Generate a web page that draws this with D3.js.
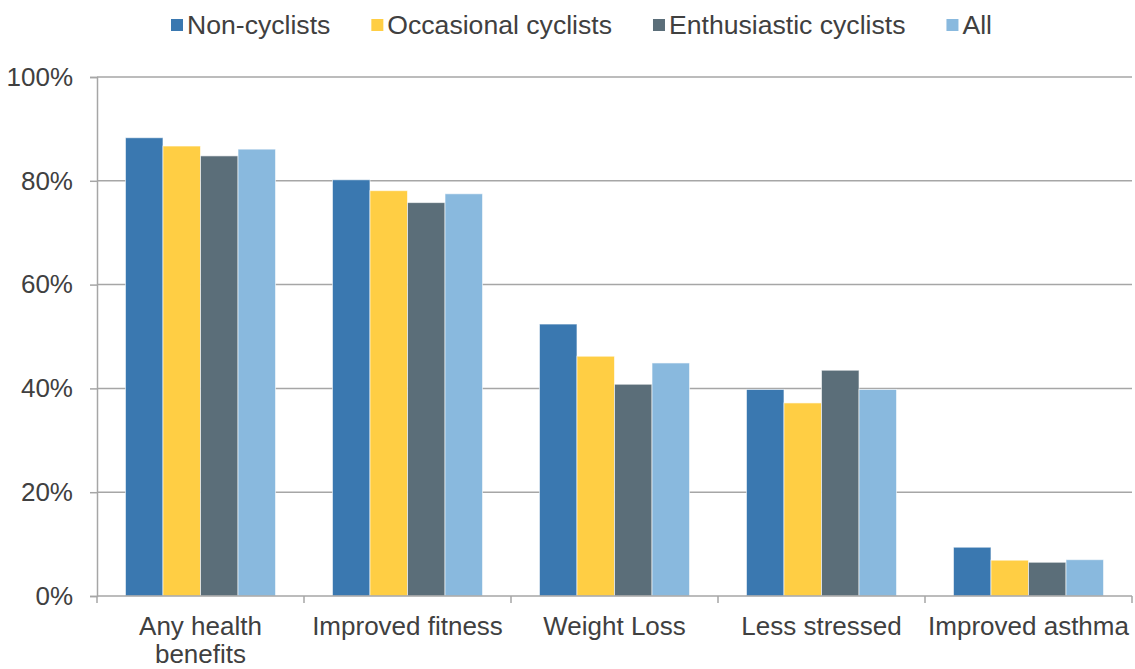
<!DOCTYPE html>
<html>
<head>
  <meta charset="utf-8">
  <title>Health benefits of cycling</title>
  <script src="https://cdn.jsdelivr.net/npm/d3@7"></script>
  <style>
    body { margin: 0; background: #fff; }
    text { font-family: "Liberation Sans", Arial, sans-serif; fill: #404040; }
  </style>
</head>
<body>
<script>

// data
var categories = ["Any health benefits", "Improved fitness", "Weight Loss", "Less stressed", "Improved asthma"];
var seriesNames = ["Non-cyclists", "Occasional cyclists", "Enthusiastic cyclists", "All"];
var nonCyclists = [88.3, 80.2, 52.4, 39.8, 9.4];
var occasional = [86.7, 78.1, 46.2, 37.2, 6.9];
var enthusiastic = [84.8, 75.8, 40.8, 43.5, 6.5];
var allRiders = [86.1, 77.5, 44.9, 39.8, 7.0];
var yTicks = [0, 20, 40, 60, 80, 100];

var colors = ["#3a78b0", "#ffce44", "#5b6e79", "#89b9de"];
var seriesValues = [nonCyclists, occasional, enthusiastic, allRiders];

var w = 1135, h = 669;
// plot area (note: "top" is reserved on window, so use other names)
var plotLeft = 97, plotRight = 1132, plotTop = 77, plotBottom = 596;

var svg = d3.select("body").append("svg")
  .attr("width", w)
  .attr("height", h);

var x0 = d3.scaleBand()
  .domain(categories)
  .range([plotLeft, plotRight])
  .paddingInner(0.275)
  .paddingOuter(0.1375);

var x1 = d3.scaleBand()
  .domain(seriesNames)
  .range([0, x0.bandwidth()]);

var y = d3.scaleLinear()
  .domain([0, 100])
  .range([plotBottom, plotTop]);

// gridlines
svg.selectAll(".grid")
  .data(yTicks.slice(1))
  .enter()
  .append("line")
  .attr("x1", plotLeft)
  .attr("x2", plotRight)
  .attr("y1", function(d) { return y(d); })
  .attr("y2", function(d) { return y(d); })
  .attr("stroke", "#a6a6a6")
  .attr("stroke-width", 1.5);

// bars
var groups = svg.selectAll(".group")
  .data(categories)
  .enter()
  .append("g")
  .attr("transform", function(d) { return "translate(" + x0(d) + ",0)"; });

groups.selectAll("rect")
  .data(function(d, i) {
    return seriesNames.map(function(s, j) { return { s: s, v: seriesValues[j][i], c: colors[j] }; });
  })
  .enter()
  .append("rect")
  .attr("x", function(d) { return x1(d.s); })
  .attr("y", function(d) { return y(d.v); })
  .attr("width", x1.bandwidth())
  .attr("height", function(d) { return plotBottom - y(d.v); })
  .attr("fill", function(d) { return d.c; })
  .attr("stroke", "rgba(255,255,255,0.6)")
  .attr("stroke-width", 1);

// y axis
var yAxis = svg.append("g")
  .attr("transform", "translate(" + plotLeft + ",0)")
  .call(d3.axisLeft(y).tickValues(yTicks).tickFormat(function(d) { return d + "%"; }).tickSize(7).tickPadding(17));
yAxis.select(".domain").attr("stroke", "#a6a6a6").attr("stroke-width", 1.5);
yAxis.selectAll(".tick line").attr("stroke", "#a6a6a6").attr("stroke-width", 1.5);
yAxis.selectAll("text").attr("font-size", "26px").attr("fill", "#404040")
  .attr("font-family", "Liberation Sans, Arial, sans-serif");

// x axis line with ticks at group boundaries
svg.append("line")
  .attr("x1", plotLeft).attr("x2", plotRight)
  .attr("y1", plotBottom).attr("y2", plotBottom)
  .attr("stroke", "#a6a6a6").attr("stroke-width", 1.5);

var step = x0.step();
var bounds = d3.range(categories.length + 1).map(function(i) { return plotLeft + i * step; });
svg.selectAll(".xtick")
  .data(bounds)
  .enter()
  .append("line")
  .attr("x1", function(d) { return d; })
  .attr("x2", function(d) { return d; })
  .attr("y1", plotBottom)
  .attr("y2", plotBottom + 7)
  .attr("stroke", "#a6a6a6")
  .attr("stroke-width", 1.5);

// category labels (wrap the first one like the original)
var labelLines = {
  "Any health benefits": ["Any health", "benefits"]
};
svg.selectAll(".xlabel")
  .data(categories)
  .enter()
  .append("text")
  .attr("text-anchor", "middle")
  .attr("font-size", "26px")
  .attr("x", function(d) { return x0(d) + x0.bandwidth() / 2; })
  .attr("y", 635)
  .each(function(d) {
    var lines = labelLines[d] || [d];
    var t = d3.select(this);
    lines.forEach(function(l, i) {
      t.append("tspan")
        .attr("x", x0(d) + x0.bandwidth() / 2)
        .attr("dy", i === 0 ? 0 : 28)
        .text(l);
    });
  });

// legend
var legend = svg.append("g");
var lx = 171;
seriesNames.forEach(function(s, i) {
  legend.append("rect")
    .attr("x", lx).attr("y", 19)
    .attr("width", 12).attr("height", 12)
    .attr("fill", colors[i]);
  var t = legend.append("text")
    .attr("x", lx + 16).attr("y", 34)
    .attr("font-size", "26.6px")
    .text(s);
  lx += 16 + t.node().getComputedTextLength() + 41;
});

</script>
</body>
</html>
